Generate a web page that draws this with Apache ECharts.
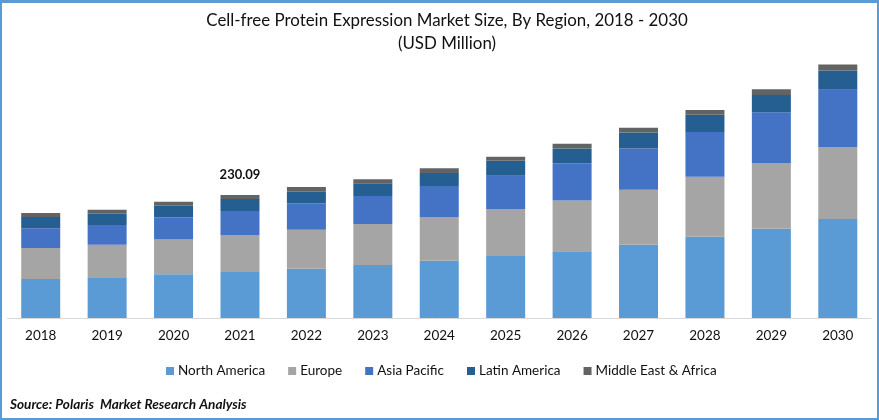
<!DOCTYPE html>
<html>
<head>
<meta charset="utf-8">
<title>Cell-free Protein Expression Market Size</title>
<script src="https://cdn.jsdelivr.net/npm/echarts@6/dist/echarts.min.js"></script>
<style>
html, body { margin: 0; padding: 0; background: #fff; }
#chart { width: 879px; height: 420px; }
/* 外框 */
#frame { position: absolute; left: 0; top: 0; width: 879px; height: 420px; box-sizing: border-box;
	border: 2px solid #5b9bd5; border-top-width: 3px; pointer-events: none; }
</style>
</head>
<body>
<div id="chart"></div>
<div id="frame"></div>
<script>
"use strict";
var years = ['2018', '2019', '2020', '2021', '2022', '2023', '2024', '2025', '2026', '2027', '2028', '2029', '2030'];

// values (USD million)
var northAmerica = [73, 75, 82, 86, 92, 99, 107, 116, 125, 137, 152, 167, 185];
var europe = [58, 62, 65, 69.2, 73, 77, 82, 88, 95, 103, 112, 123, 135];
var asiaPacific = [37, 37, 41, 44.9, 49, 52, 58, 62, 69, 77, 84, 95, 107];
var latinAmerica = [21, 21, 22, 22.5, 22, 24, 24, 28, 28, 30, 32, 32, 36];
var middleEastAfrica = [7.5, 7.5, 7.5, 7.49, 9, 7.5, 9, 7.5, 9, 9, 9, 11, 11];

var seriesNames = ['North America', 'Europe', 'Asia Pacific', 'Latin America', 'Middle East & Africa'];
var seriesColors = ['#5b9bd5', '#a5a5a5', '#4472c4', '#255e91', '#636363'];
var seriesValues = [northAmerica, europe, asiaPacific, latinAmerica, middleEastAfrica];

var labelYear = '2021';
var labelText = '230.09';
var fontName = 'Lato';

var mySeries = [];
for (var i = 0; i < seriesNames.length; i++) {
	mySeries.push({
		name: seriesNames[i],
		type: 'bar',
		stack: 'total',
		barWidth: 39,
		itemStyle: { color: seriesColors[i] },
		data: seriesValues[i]
	});
}

// the one total printed over the bars, hung on the top segment
var topData = [];
for (var j = 0; j < years.length; j++) {
	if (years[j] === labelYear) {
		topData.push({
			value: middleEastAfrica[j],
			label: {
				show: true,
				position: 'top',
				distance: 14,
				formatter: labelText,
				color: '#111',
				fontFamily: fontName,
				fontWeight: 'bold',
				fontSize: 13
			}
		});
	} else {
		topData.push(middleEastAfrica[j]);
	}
}
mySeries[4].data = topData;

var myChart = echarts.init(document.getElementById('chart'));
var option = {
	animation: false,
	backgroundColor: '#fff',
	title: [
		{
			text: 'Cell-free Protein Expression Market Size, By Region, 2018 - 2030\n(USD Million)',
			left: 442,
			top: 4,
			textAlign: 'center',
			textStyle: { color: '#111', fontFamily: fontName, fontSize: 16.9, fontWeight: 'normal', lineHeight: 23 }
		},
		{
			text: 'Source: Polaris  Market Research Analysis',
			left: 5,
			top: 393,
			textStyle: { color: '#111', fontFamily: fontName, fontSize: 13.6, fontWeight: 'bold', fontStyle: 'italic' }
		}
	],
	legend: {
		data: seriesNames,
		left: 161,
		top: 359,
		icon: 'rect',
		itemWidth: 8,
		itemHeight: 8,
		itemGap: 23,
		textStyle: { color: '#111', fontFamily: fontName, fontSize: 13.5, padding: [0, 0, 0, -1] }
	},
	grid: { left: 7.5, right: 8, top: 40, height: 278 },
	xAxis: {
		type: 'category',
		data: years,
		axisTick: { show: false },
		axisLine: { lineStyle: { color: '#d9d9d9', width: 1 } },
		axisLabel: { color: '#111', fontFamily: fontName, fontSize: 13.5, margin: 11 }
	},
	yAxis: {
		type: 'value',
		min: 0,
		max: 520,
		show: false
	},
	series: mySeries
};
myChart.setOption(option);
</script>
</body>
</html>
